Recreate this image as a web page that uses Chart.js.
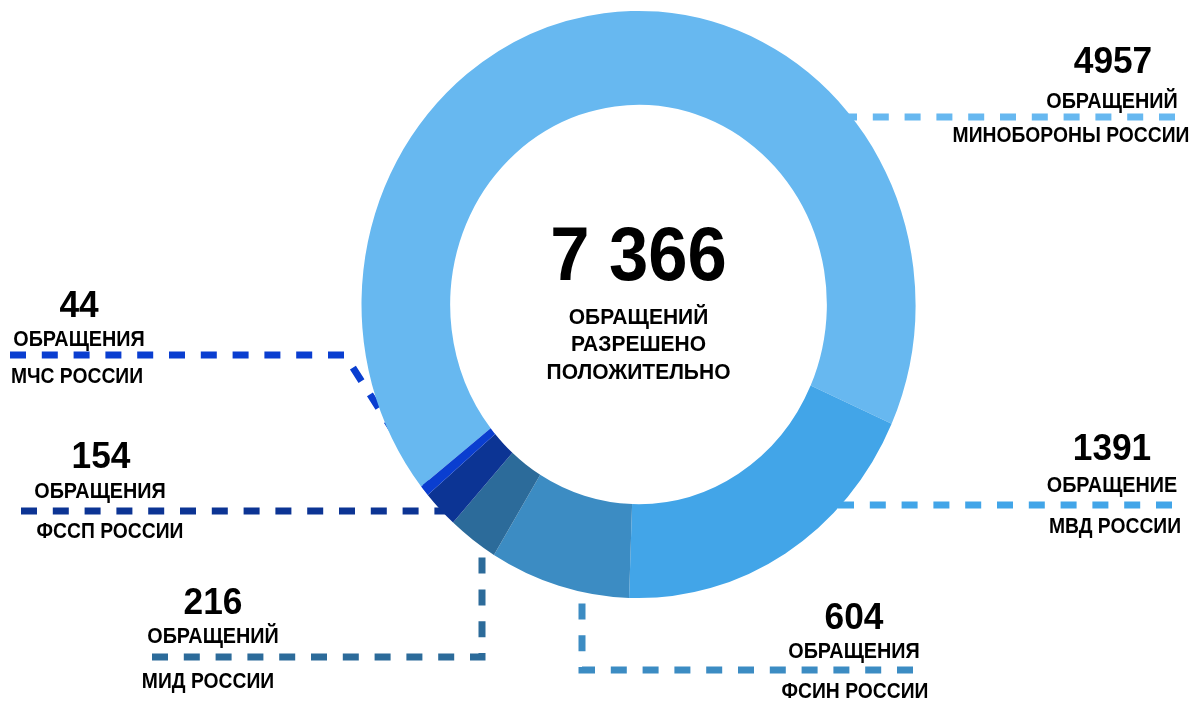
<!DOCTYPE html>
<html lang="ru">
<head>
<meta charset="utf-8">
<title>Обращения, разрешённые положительно</title>
<script src="https://cdn.jsdelivr.net/npm/chart.js@4.4.1/dist/chart.umd.min.js"></script>
<style>
  html, body { margin: 0; padding: 0; background: #fff; }
  #wrap { width: 1193px; height: 702px; }
</style>
</head>
<body>
<div id="wrap"><canvas id="donut" width="1193" height="702"></canvas></div>
<script>
// ---------------- Данные ----------------
const agencies = ['МИНОБОРОНЫ РОССИИ', 'МВД РОССИИ', 'ФСИН РОССИИ', 'МИД РОССИИ', 'ФССП РОССИИ', 'МЧС РОССИИ'];
const requests = [4957, 1391, 604, 216, 154, 44];
const unitWords = ['ОБРАЩЕНИЙ', 'ОБРАЩЕНИЕ', 'ОБРАЩЕНИЯ', 'ОБРАЩЕНИЙ', 'ОБРАЩЕНИЯ', 'ОБРАЩЕНИЯ'];
const centerCaption = ['ОБРАЩЕНИЙ', 'РАЗРЕШЕНО', 'ПОЛОЖИТЕЛЬНО'];
const sliceColors = ['#67b8f0', '#42a5e8', '#3c8cc3', '#2c6b9a', '#0c3494', '#0a3ed0'];

// ---------------- Разметка подписей ----------------
// num / unit / name - центры строк; path - начало выноски; end - как она входит в кольцо
const labelLayout = [
  { num: [1113, 63],  unit: [1112, 102], name: [1071, 136], path: [[1175, 117]], end: 'h' },
  { num: [1112, 450], unit: [1112, 486], name: [1115, 527], path: [[1172, 505]], end: 'h' },
  { num: [854, 619],  unit: [854, 652],  name: [855, 692],  path: [[913, 670], [582, 670]], end: 'v' },
  { num: [213, 604],  unit: [213, 637],  name: [208, 682],  path: [[152, 657], [482, 657]], end: 'v' },
  { num: [101, 458],  unit: [100, 492],  name: [110, 532],  path: [[21, 511]], end: 'h' },
  { num: [79, 307],   unit: [79, 340],   name: [77, 377],   path: [[10, 355], [345, 355]], end: 'slice' }
];
const SY = 1.06; // кольцо в оригинале немного вытянуто по вертикали
const FONT = '"Liberation Sans", Arial, sans-serif';

const total = requests.reduce((a, b) => a + b, 0);
const totalText = String(total).replace(/\B(?=(\d{3})+(?!\d))/g, ' ');

function ring(chart) {
  const arc = chart.getDatasetMeta(0).data[0];
  return { cx: arc.x, cy: arc.y, rIn: arc.innerRadius, rOut: arc.outerRadius };
}

// текст чуть уже и выше, как в оригинале
function drawText(ctx, text, x, y, sx, sy) {
  ctx.save();
  ctx.translate(x, y);
  ctx.scale(sx, sy);
  ctx.fillText(text, 0, 0);
  ctx.restore();
}

function drawLeaders(chart) {
  const ctx = chart.ctx;
  const g = ring(chart);
  const rm = (g.rIn + g.rOut) / 2;
  const arcs = chart.getDatasetMeta(0).data;
  ctx.save();
  ctx.lineWidth = 7;
  ctx.setLineDash([16, 15.8]);
  ctx.lineCap = 'butt';
  labelLayout.forEach((lay, i) => {
    const pts = lay.path.map(p => p.slice());
    const last = pts[pts.length - 1];
    let endPt;
    if (lay.end === 'h') {
      const dy = (last[1] - g.cy) / SY;
      const side = last[0] < g.cx ? -1 : 1;
      endPt = [g.cx + side * Math.sqrt(Math.max(rm * rm - dy * dy, 0)), last[1]];
    } else if (lay.end === 'v') {
      const dx = last[0] - g.cx;
      const side = last[1] < g.cy ? -1 : 1;
      endPt = [last[0], g.cy + side * SY * Math.sqrt(Math.max(rm * rm - dx * dx, 0))];
    } else {
      // к внешнему краю сегмента
      const a = (arcs[i].startAngle + arcs[i].endAngle) / 2;
      const r = g.rOut * 0.98;
      endPt = [g.cx + Math.cos(a) * r, g.cy + Math.sin(a) * r * SY];
    }
    pts.push(endPt);
    ctx.strokeStyle = sliceColors[i];
    ctx.beginPath();
    ctx.moveTo(pts[0][0], pts[0][1]);
    for (let k = 1; k < pts.length; k++) ctx.lineTo(pts[k][0], pts[k][1]);
    ctx.stroke();
  });
  ctx.restore();
}

const ellipsePlugin = {
  id: 'ellipse',
  beforeDatasetsDraw(chart) {
    drawLeaders(chart);
    const g = ring(chart);
    const ctx = chart.ctx;
    ctx.save();
    ctx.translate(g.cx, g.cy);
    ctx.scale(1, SY);
    ctx.translate(-g.cx, -g.cy);
  },
  afterDatasetsDraw(chart) {
    chart.ctx.restore();
  },
  afterDraw(chart) {
    const ctx = chart.ctx;
    const g = ring(chart);
    ctx.save();
    ctx.fillStyle = '#000';
    ctx.textAlign = 'center';
    ctx.textBaseline = 'middle';
    // центр
    ctx.font = 'bold 72px ' + FONT;
    drawText(ctx, totalText, g.cx, 259, 0.98, 1.05);
    ctx.font = 'bold 21px ' + FONT;
    centerCaption.forEach((t, k) => drawText(ctx, t, g.cx, 317.5 + k * 27.5, 1.0, 1.06));
    // подписи сегментов
    labelLayout.forEach((lay, i) => {
      ctx.font = 'bold 36px ' + FONT;
      drawText(ctx, String(requests[i]), lay.num[0], lay.num[1], 0.98, 1.04);
      ctx.font = 'bold 20px ' + FONT;
      drawText(ctx, unitWords[i], lay.unit[0], lay.unit[1], 0.99, 1.06);
      drawText(ctx, agencies[i], lay.name[0], lay.name[1], 0.965, 1.06);
    });
    ctx.restore();
  }
};

new Chart(document.getElementById('donut'), {
  type: 'doughnut',
  data: {
    labels: agencies,
    datasets: [{
      data: requests,
      backgroundColor: sliceColors,
      borderWidth: 0,
      hoverOffset: 0,
      clip: false
    }]
  },
  options: {
    responsive: false,
    animation: false,
    devicePixelRatio: 1,
    rotation: 231.7,
    cutout: '68%',
    layout: { padding: { left: 361.5, right: 277.5, top: 11.5, bottom: 104.5 } },
    plugins: {
      legend: { display: false },
      tooltip: { enabled: false }
    },
    events: []
  },
  plugins: [ellipsePlugin]
});
</script>
</body>
</html>
